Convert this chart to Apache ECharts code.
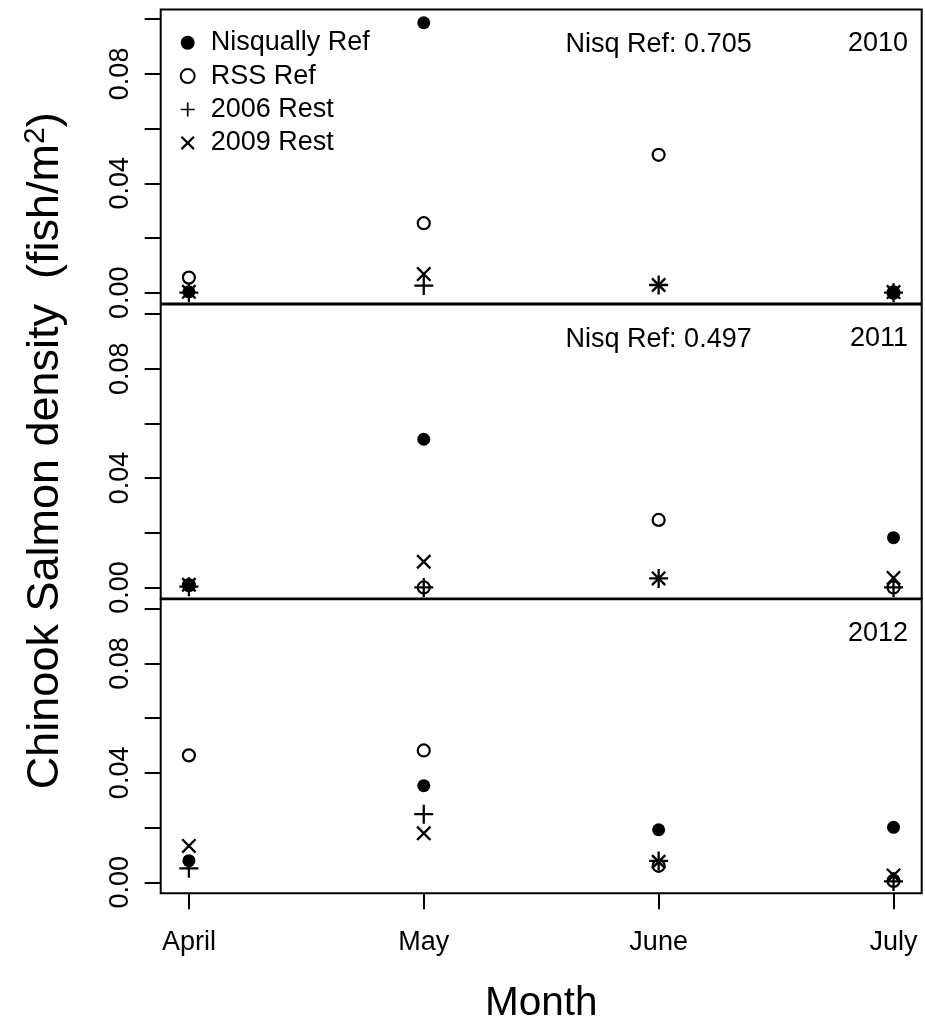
<!DOCTYPE html>
<html>
<head>
<meta charset="utf-8">
<title>Chinook Salmon density</title>
<script src="https://cdn.jsdelivr.net/npm/echarts@6/dist/echarts.min.js"></script>
<style>
  html, body { margin: 0; padding: 0; background: #fff; }
  #chart { width: 925px; height: 1026px; }
</style>
</head>
<body>
<div id="chart"></div>
<script>
// categories
const months = ['April', 'May', 'June', 'July']
const years = ['2010', '2011', '2012']
const seriesNames = ['Nisqually Ref', 'RSS Ref', '2006 Rest', '2009 Rest']
const yLabelTicks = [0, 0.04, 0.08]

// density (fish/m^2), April..July
const nisqRef2010 = [0.0003, 0.0987, 0.705, 0.0003]
const rssRef2010 = [0.0055, 0.0254, 0.0504, 0.0000]
const rest2006_2010 = [0.0000, 0.0026, 0.0028, 0.0000]
const rest2009_2010 = [0.0003, 0.0068, 0.0028, 0.0002]

const nisqRef2011 = [0.0010, 0.0542, 0.497, 0.0182]
const rssRef2011 = [0.0008, 0.0000, 0.0247, 0.0000]
const rest2006_2011 = [0.0003, 0.0000, 0.0033, 0.0000]
const rest2009_2011 = [0.0010, 0.0094, 0.0033, 0.0035]

const nisqRef2012 = [0.0079, 0.0353, 0.0192, 0.0201]
const rssRef2012 = [0.0464, 0.0482, 0.0060, 0.0005]
const rest2006_2012 = [0.0051, 0.0249, 0.0078, 0.0003]
const rest2009_2012 = [0.0133, 0.0179, 0.0075, 0.0025]

const panels = [
  [nisqRef2010, rssRef2010, rest2006_2010, rest2009_2010],
  [nisqRef2011, rssRef2011, rest2006_2011, rest2009_2011],
  [nisqRef2012, rssRef2012, rest2006_2012, rest2009_2012]
]

// layout
const FONT = 'Liberation Sans, Arial, sans-serif'
const plotLeft = 160.7
const plotWidth = 761
const panelTop = [9.6, 304.4, 599.2]
const panelH = 294
const xMin = 0.88, xMax = 4.12
const yMin = -0.004, yMax = 0.1035

// R-like point shapes: pch 19, 1, 3, 4
const plusPath = 'path://M8.8,0H11.2V20H8.8Z M0,8.8H20V11.2H0Z'
const crossPath = 'path://M0,2.2L2.2,0L20,17.8L17.8,20Z M17.8,0L20,2.2L2.2,20L0,17.8Z'
const markStyle = [
  { symbol: 'circle', symbolSize: 13, itemStyle: { color: '#000', opacity: 1 } },
  { symbol: 'circle', symbolSize: 12, itemStyle: { color: 'rgba(0,0,0,0)', borderColor: '#000', borderWidth: 2.2, opacity: 1 } },
  { symbol: plusPath, symbolSize: 19, itemStyle: { color: '#000', opacity: 1 } },
  { symbol: crossPath, symbolSize: 15, itemStyle: { color: '#000', opacity: 1 } }
]

const tickLine = { show: true, length: 16, inside: false, lineStyle: { color: '#000', width: 2 } }

const grids = []
const xAxes = []
const yAxes = []
const series = []

// data panels (box + points)
panels.forEach((vals, i) => {
  grids.push({
    left: plotLeft, top: panelTop[i], width: plotWidth, height: panelH,
    show: true, borderColor: '#000', borderWidth: 2, backgroundColor: 'transparent',
    outerBoundsMode: 'none'
  })
  xAxes.push({ type: 'value', gridIndex: i, min: xMin, max: xMax, show: false })
  yAxes.push({ type: 'value', gridIndex: i, min: yMin, max: yMax, show: false })
  vals.forEach((arr, k) => {
    series.push(Object.assign({
      name: seriesNames[k],
      type: 'scatter',
      xAxisIndex: i,
      yAxisIndex: i,
      clip: true,
      data: arr.map((v, j) => [j + 1, v])
    }, markStyle[k]))
  })
})

// y tick axes, one per panel
const pxPerUnit = panelH / (yMax - yMin)
panels.forEach((vals, i) => {
  const gi = grids.length
  grids.push({
    left: plotLeft, width: plotWidth,
    top: panelTop[i] + (yMax - 0.1) * pxPerUnit, height: 0.1 * pxPerUnit,
    show: false, outerBoundsMode: 'none'
  })
  xAxes.push({ type: 'value', gridIndex: gi, show: false })
  const ax = {
    type: 'value', gridIndex: gi, min: 0, max: 0.1, interval: 0.02,
    axisLine: { show: false },
    axisTick: tickLine,
    splitLine: { show: false },
    axisLabel: {
      rotate: 90, margin: 27, fontSize: 27, fontFamily: FONT, color: '#000',
      showMinLabel: true, showMaxLabel: true,
      formatter: v => yLabelTicks.some(t => Math.abs(t - v) < 1e-9) ? v.toFixed(2) : ''
    }
  }
  if (i === 1) {
    Object.assign(ax, {
      name: '{a|Chinook Salmon density  (fish/m}{s|2}{a|)}',
      nameLocation: 'middle',
      nameRotate: 90,
      nameGap: 90,
      nameTextStyle: {
        fontSize: 45, fontFamily: FONT, color: '#000',
        rich: {
          a: { fontSize: 45, fontFamily: FONT, color: '#000', lineHeight: 50 },
          s: { fontSize: 30, fontFamily: FONT, color: '#000', lineHeight: 26, verticalAlign: 'top' }
        }
      }
    })
  }
  yAxes.push(ax)
})

// x tick axis under the bottom panel
const xgi = grids.length
const xPx = plotWidth / (xMax - xMin)
grids.push({
  left: plotLeft + (1 - xMin) * xPx, width: 3 * xPx,
  top: panelTop[2], height: panelH,
  show: false, outerBoundsMode: 'none'
})
xAxes.push({
  type: 'value', gridIndex: xgi, min: 1, max: 4, interval: 1, position: 'bottom',
  axisLine: { show: false },
  axisTick: tickLine,
  splitLine: { show: false },
  axisLabel: { margin: 36, fontSize: 27, fontFamily: FONT, color: '#000', formatter: v => months[v - 1] },
  name: 'Month', nameLocation: 'middle', nameGap: 90,
  nameTextStyle: { fontSize: 40.5, fontFamily: FONT, color: '#000' }
})
yAxes.push({ type: 'value', gridIndex: xgi, show: false })

const option = {
  animation: false,
  backgroundColor: '#fff',
  grid: grids,
  xAxis: xAxes,
  yAxis: yAxes,
  legend: {
    data: seriesNames,
    orient: 'vertical',
    left: 179.7,
    top: 29.2,
    padding: 0,
    itemWidth: 14,
    itemHeight: 14,
    itemGap: 6.4,
    selectedMode: false,
    textStyle: { fontSize: 27, fontFamily: FONT, color: '#000', lineHeight: 27, padding: [0, 0, 0, 11] }
  },
  series: series
}

const chart = echarts.init(document.getElementById('chart'))
chart.setOption(option)

// panel annotations: year at right, off-scale Nisqually value above June
const juneX = chart.convertToPixel({ xAxisIndex: 0 }, 3)
const graphics = []
years.forEach((yr, i) => {
  graphics.push({
    type: 'text', x: 908, y: panelTop[i] + 34,
    style: { text: yr, align: 'right', verticalAlign: 'middle', fontSize: 27, fontFamily: FONT, fill: '#000' }
  })
  const june = panels[i][0][2]
  if (june > yMax) {
    graphics.push({
      type: 'text', x: juneX, y: panelTop[i] + 35,
      style: { text: 'Nisq Ref: ' + june.toFixed(3), align: 'center', verticalAlign: 'middle', fontSize: 27, fontFamily: FONT, fill: '#000' }
    })
  }
})
chart.setOption({ graphic: graphics })
</script>
</body>
</html>
